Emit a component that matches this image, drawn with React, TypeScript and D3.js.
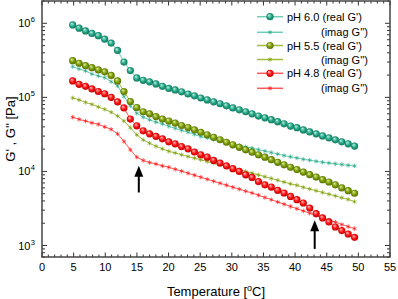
import React from "react";
import * as d3 from "d3";

const temps = [4.85, 5.86, 6.88, 7.89, 8.9, 9.91, 10.93, 11.94, 12.95, 13.96, 14.98, 15.99, 17.0, 18.01, 19.03, 20.04, 21.05, 22.06, 23.08, 24.09, 25.1, 26.11, 27.13, 28.14, 29.15, 30.16, 31.18, 32.19, 33.2, 34.21, 35.23, 36.24, 37.25, 38.26, 39.28, 40.29, 41.3, 42.31, 43.33, 44.34, 45.35, 46.36, 47.38, 48.39, 49.4];

const ph60Real = [9.5e5, 8.6e5, 7.9e5, 7.3e5, 6.8e5, 6.1e5, 5.4e5, 4.3e5, 3.0e5, 2.3e5, 1.83e5, 1.7e5, 1.62e5, 1.52e5, 1.41e5, 1.32e5, 1.26e5, 1.19e5, 1.11e5, 1.05e5, 9.8e4, 9.25e4, 8.7e4, 8.2e4, 7.7e4, 7.2e4, 6.8e4, 6.4e4, 6.0e4, 5.6e4, 5.3e4, 5.0e4, 4.7e4, 4.4e4, 4.1e4, 3.9e4, 3.64e4, 3.42e4, 3.22e4, 3.02e4, 2.84e4, 2.67e4, 2.51e4, 2.36e4, 2.2e4];
const ph60Imag = [2.6e5, 2.42e5, 2.28e5, 2.07e5, 1.95e5, 1.85e5, 1.63e5, 1.43e5, 1.03e5, 7.7e4, 6.1e4, 5.4e4, 4.98e4, 4.63e4, 4.39e4, 4.07e4, 3.82e4, 3.59e4, 3.38e4, 3.17e4, 2.96e4, 2.83e4, 2.7e4, 2.58e4, 2.47e4, 2.36e4, 2.25e4, 2.15e4, 2.07e4, 1.97e4, 1.88e4, 1.8e4, 1.72e4, 1.64e4, 1.58e4, 1.52e4, 1.46e4, 1.42e4, 1.37e4, 1.33e4, 1.3e4, 1.27e4, 1.24e4, 1.21e4, 1.19e4];
const ph55Real = [3.13e5, 2.89e5, 2.68e5, 2.52e5, 2.35e5, 2.21e5, 1.98e5, 1.67e5, 1.2e5, 8.8e4, 7.3e4, 6.4e4, 6.0e4, 5.5e4, 5.1e4, 4.8e4, 4.5e4, 4.17e4, 3.92e4, 3.65e4, 3.38e4, 3.13e4, 2.89e4, 2.68e4, 2.48e4, 2.29e4, 2.12e4, 1.96e4, 1.82e4, 1.68e4, 1.56e4, 1.44e4, 1.33e4, 1.23e4, 1.14e4, 1.06e4, 9.8e3, 9.05e3, 8.4e3, 7.75e3, 7.2e3, 6.6e3, 6.0e3, 5.5e3, 5.08e3];
const ph55Imag = [9.85e4, 9.25e4, 8.56e4, 8.05e4, 7.45e4, 6.9e4, 6.3e4, 5.6e4, 4.8e4, 3.9e4, 3.12e4, 2.67e4, 2.4e4, 2.19e4, 2.02e4, 1.87e4, 1.78e4, 1.68e4, 1.59e4, 1.51e4, 1.44e4, 1.36e4, 1.29e4, 1.23e4, 1.17e4, 1.11e4, 1.05e4, 1.0e4, 9.5e3, 9.0e3, 8.5e3, 8.05e3, 7.6e3, 7.2e3, 6.8e3, 6.5e3, 6.1e3, 5.8e3, 5.5e3, 5.2e3, 4.93e3, 4.68e3, 4.42e3, 4.19e3, 3.91e3];
const ph48Real = [1.67e5, 1.5e5, 1.41e5, 1.3e5, 1.2e5, 1.12e5, 1.0e5, 8.7e4, 7.2e4, 5.1e4, 4.13e4, 3.54e4, 3.22e4, 2.98e4, 2.76e4, 2.51e4, 2.36e4, 2.17e4, 2.02e4, 1.83e4, 1.68e4, 1.56e4, 1.41e4, 1.3e4, 1.19e4, 1.09e4, 1.0e4, 9.0e3, 8.3e3, 7.3e3, 6.6e3, 6.16e3, 5.55e3, 5.12e3, 4.6e3, 4.16e3, 3.75e3, 3.21e3, 2.69e3, 2.36e3, 2.08e3, 1.78e3, 1.59e3, 1.43e3, 1.29e3];
const ph48Imag = [5.4e4, 5.05e4, 4.79e4, 4.53e4, 4.33e4, 4.0e4, 3.7e4, 3.22e4, 2.54e4, 1.96e4, 1.56e4, 1.41e4, 1.32e4, 1.26e4, 1.19e4, 1.14e4, 1.07e4, 1.01e4, 9.46e3, 8.9e3, 8.35e3, 7.85e3, 7.38e3, 6.93e3, 6.52e3, 6.13e3, 5.76e3, 5.41e3, 5.12e3, 4.78e3, 4.45e3, 4.16e3, 3.87e3, 3.61e3, 3.37e3, 3.14e3, 2.93e3, 2.73e3, 2.55e3, 2.38e3, 2.21e3, 2.07e3, 1.92e3, 1.8e3, 1.69e3];

const xTicks = [0, 5, 10, 15, 20, 25, 30, 35, 40, 45, 50, 55];
const yDecades = [3, 4, 5, 6];

const legendLabels = ["pH 6.0 (real G')", "(imag G'')", "pH 5.5 (real G')", "(imag G'')", "pH 4.8 (real G')", "(imag G'')"];

const arrows = [
  { t: 15.3, from: 5.2e3, to: 1.19e4 },
  { t: 43.1, from: 9.0e2, to: 2.2e3 },
];

const seriesDefs = [
  { key: "t", real: ph60Real, imag: ph60Imag, marker: "#21a585", line: "#6ccdb4", light: "#c4f3e6", dark: "#0f6e56" },
  { key: "o", real: ph55Real, imag: ph55Imag, marker: "#7b9c05", line: "#9fbc3a", light: "#e0f09a", dark: "#4e6600" },
  { key: "r", real: ph48Real, imag: ph48Imag, marker: "#ff1010", line: "#ff5a5a", light: "#ffc0c0", dark: "#b00000" },
];

const W = 398, H = 299;
const L = 42, R = 390, T = 1, B = 257;
const FONT = "'Liberation Sans', Arial, sans-serif";

export default function App() {
  const x = d3.scaleLinear().domain([0, 55]).range([L, R]);
  const y = d3.scaleLog().domain([700, 2e6]).range([B, T]);
  const line = (vals: number[]) =>
    d3.line<number>().x((_, i) => x(temps[i])).y((v) => y(v))(vals) || "";
  const star = d3.symbol().type(d3.symbolAsterisk).size(14)() || "";

  const minorX: number[] = d3.range(0, 56, 1).filter((v) => v % 5 !== 0);
  const minorY: number[] = [];
  for (let k = 2; k <= 6; k++) {
    for (let m = 2; m <= 9; m++) {
      const v = m * Math.pow(10, k);
      if (v >= 700 && v <= 2e6) minorY.push(v);
    }
  }
  const tickColor = "#333";

  const legendRowsY = [16.7, 32.3, 45.5, 59.5, 73.3, 88.3];

  return (
    <svg width={W} height={H} style={{ position: "absolute", left: 0, top: 0, background: "#fff" }} fontFamily={FONT}>
      <defs>
        {seriesDefs.map((s) => (
          <radialGradient key={s.key} id={"g" + s.key} cx="50%" cy="50%" r="55%" fx="35%" fy="30%">
            <stop offset="0%" stopColor={s.light} />
            <stop offset="55%" stopColor={s.marker} />
            <stop offset="100%" stopColor={s.dark} />
          </radialGradient>
        ))}
        <clipPath id="plotclip">
          <rect x={L} y={T} width={R - L} height={B - T} />
        </clipPath>
      </defs>

      {/* ticks */}
      <g stroke={tickColor} strokeWidth={1}>
        {xTicks.map((t) => (
          <g key={"xt" + t}>
            <line x1={x(t)} x2={x(t)} y1={B} y2={B - 4.5} />
            <line x1={x(t)} x2={x(t)} y1={T} y2={T + 4.5} />
          </g>
        ))}
        {minorX.map((t) => (
          <g key={"xm" + t}>
            <line x1={x(t)} x2={x(t)} y1={B} y2={B - 2.5} />
            <line x1={x(t)} x2={x(t)} y1={T} y2={T + 2.5} />
          </g>
        ))}
        {yDecades.map((k) => (
          <g key={"yt" + k}>
            <line x1={L} x2={L + 5} y1={y(Math.pow(10, k))} y2={y(Math.pow(10, k))} />
            <line x1={R} x2={R - 5} y1={y(Math.pow(10, k))} y2={y(Math.pow(10, k))} />
          </g>
        ))}
        {minorY.map((v) => (
          <g key={"ym" + v}>
            <line x1={L} x2={L + 3} y1={y(v)} y2={y(v)} />
            <line x1={R} x2={R - 3} y1={y(v)} y2={y(v)} />
          </g>
        ))}
      </g>

      {/* frame */}
      <rect x={L} y={T} width={R - L} height={B - T} fill="none" stroke="#444" strokeWidth={1.5} />

      {/* series */}
      <g clipPath="url(#plotclip)">
        {seriesDefs.map((s) => (
          <g key={"s" + s.key}>
            <path d={line(s.imag)} fill="none" stroke={s.line} strokeWidth={1} />
            {s.imag.map((v, i) => (
              <path key={i} d={star} transform={`translate(${x(temps[i])},${y(v)})`} fill="none" stroke={s.marker} strokeOpacity={0.75} strokeWidth={0.9} />
            ))}
          </g>
        ))}
        {seriesDefs.map((s) => (
          <g key={"r" + s.key}>
            <path d={line(s.real)} fill="none" stroke={s.line} strokeWidth={1} />
            {s.real.map((v, i) => (
              <circle key={i} cx={x(temps[i])} cy={y(v)} r={3.6} fill={`url(#g${s.key})`} />
            ))}
          </g>
        ))}
      </g>

      {/* arrows */}
      {arrows.map((a, i) => {
        const ax = x(a.t);
        const y0 = y(a.from);
        const y1 = y(a.to);
        return (
          <g key={"a" + i}>
            <line x1={ax} x2={ax} y1={y0} y2={y1 + 6} stroke="#000" strokeWidth={2} />
            <path d={`M${ax},${y1} L${ax - 4.5},${y1 + 11} L${ax + 4.5},${y1 + 11} Z`} fill="#000" />
          </g>
        );
      })}

      {/* legend */}
      {seriesDefs.map((s, si) => {
        const yr = legendRowsY[si * 2];
        const yi = legendRowsY[si * 2 + 1];
        return (
          <g key={"lg" + s.key}>
            <line x1={257} x2={283} y1={yr} y2={yr} stroke={s.line} strokeWidth={1.5} />
            <circle cx={270} cy={yr} r={3.6} fill={`url(#g${s.key})`} />
            <text x={287} y={yr + 4} fontSize={11} fill="#000">{legendLabels[si * 2]}</text>
            <line x1={257} x2={283} y1={yi} y2={yi} stroke={s.line} strokeWidth={1.5} />
            <path d={star} transform={`translate(270,${yi})`} fill="none" stroke={s.marker} strokeOpacity={0.75} strokeWidth={0.9} />
            <text x={368} y={yi + 4} fontSize={11} textAnchor="end" fill="#000">{legendLabels[si * 2 + 1]}</text>
          </g>
        );
      })}

      {/* x tick labels */}
      {xTicks.map((t) => (
        <text key={"xl" + t} x={x(t)} y={270.5} fontSize={11} textAnchor="middle" fill="#000">{t}</text>
      ))}

      {/* y tick labels */}
      {yDecades.map((k) => (
        <g key={"yl" + k}>
          <text x={30.5} y={y(Math.pow(10, k)) + 4} fontSize={11} textAnchor="end" fill="#000">10</text>
          <text x={30.8} y={y(Math.pow(10, k)) - 1} fontSize={7.5} fill="#000">{k}</text>
        </g>
      ))}

      {/* axis titles */}
      <text x={216} y={296} fontSize={13} textAnchor="middle" fill="#000">
        Temperature [<tspan fontSize={9} dy={-5}>o</tspan><tspan dy={5}>C]</tspan>
      </text>
      <text transform={`translate(15,${(T + B) / 2}) rotate(-90)`} fontSize={13} textAnchor="middle" fill="#000">
        G' , G'' [Pa]
      </text>
    </svg>
  );
}
